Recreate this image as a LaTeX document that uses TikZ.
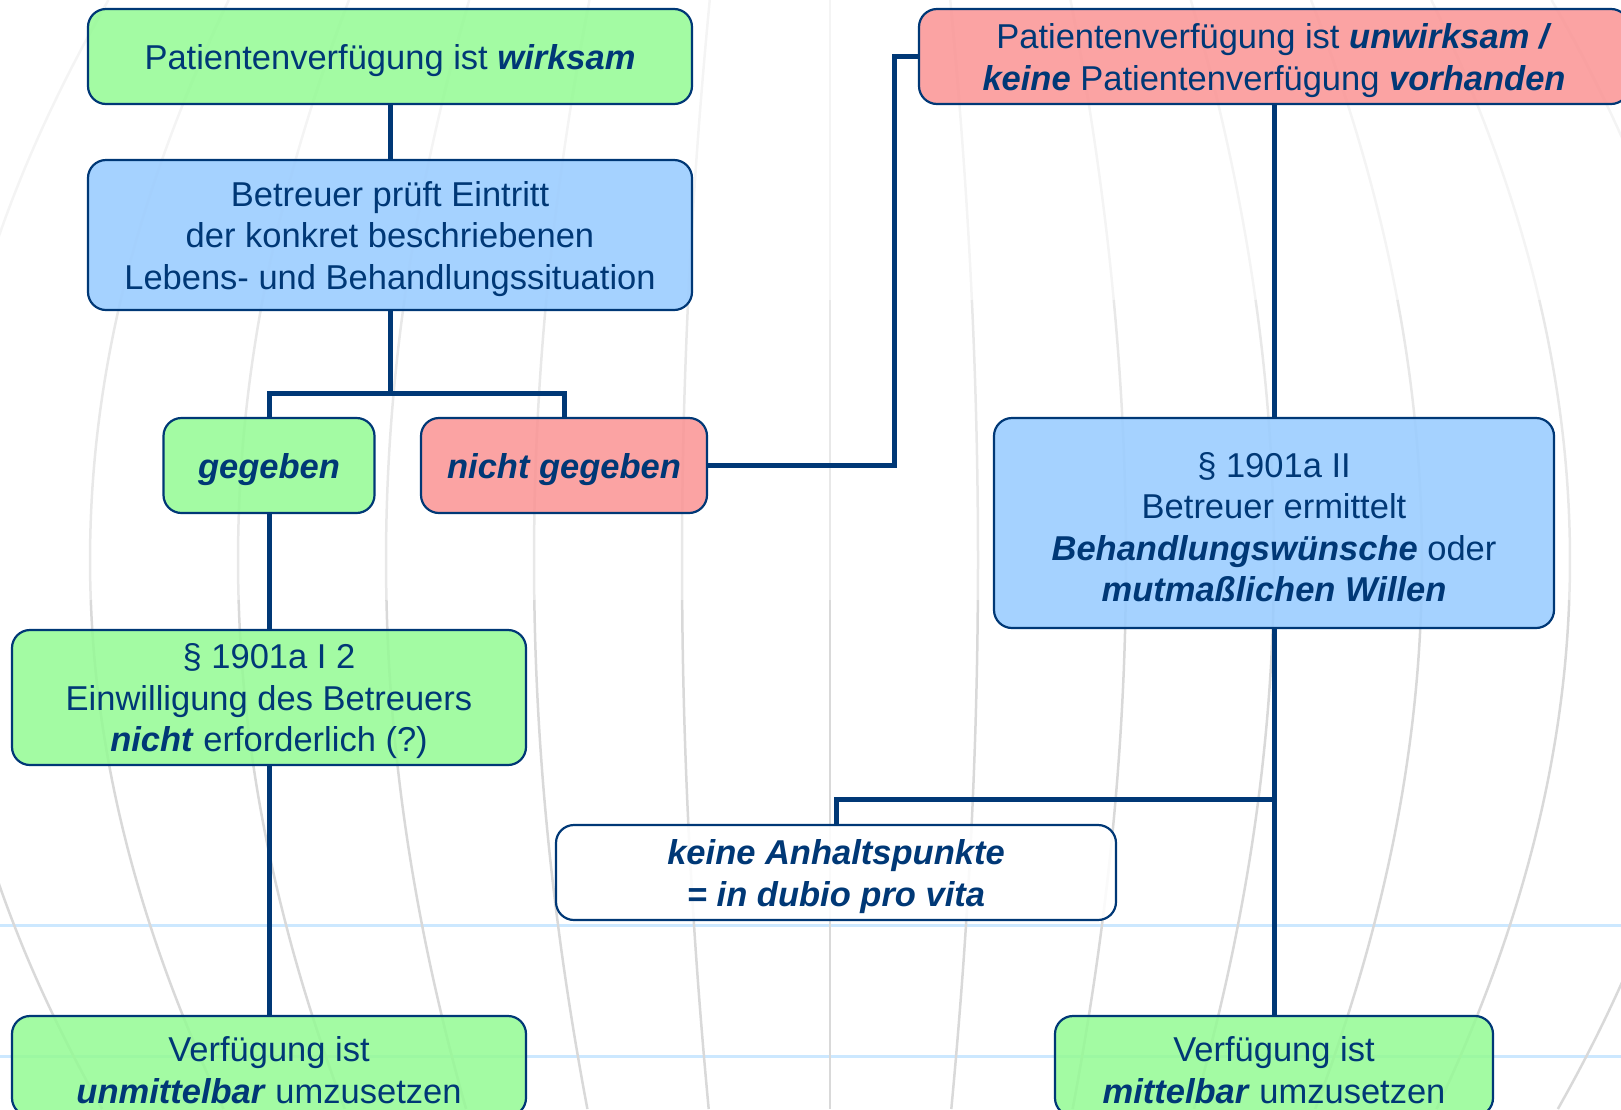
\documentclass[tikz,border=0pt]{standalone}
\usepackage{fontspec}
\setmainfont{Liberation Sans}
\usetikzlibrary{positioning}
\definecolor{navy}{RGB}{0,56,118}
\definecolor{gruen}{RGB}{150,250,150}
\definecolor{rot}{RGB}{250,150,150}
\definecolor{blau}{RGB}{153,204,255}
\definecolor{hblau}{RGB}{204,232,255}
\newcommand{\betont}[1]{\textbf{\textit{#1}}}
\newcommand{\hoch}{\rule{0pt}{33pt}}
\begin{document}
\begin{tikzpicture}[x=1pt,y=-1pt,
  box/.style={draw=navy, line width=2.2, rounded corners=18, align=center,
    text=navy, inner sep=0, fill opacity=0.88, text opacity=1,
    font=\fontsize{34.5}{41.5}\selectfont},
  ja/.style={box, fill=gruen},
  nein/.style={box, fill=rot},
  info/.style={box, fill=blau},
  leer/.style={box, fill=white},
  verb/.style={draw=navy, line width=5},
  meridian/.style={line width=2.5}]
\useasboundingbox (0,0) rectangle (1621,1109);
\clip (0,0) rectangle (1621,1109);

% Hintergrund
\draw[hblau, line width=3] (0,925) -- (1621,925);
\draw[hblau, line width=3] (0,1056) -- (1621,1056);
\foreach \k in {-7,...,7} {
  \draw[meridian, gray!9] plot[domain=0:300, samples=20, smooth]
    ({830+(\k)*148*cos(deg((\x-560)/900))}, \x);
  \draw[meridian, gray!18] plot[domain=300:600, samples=20, smooth]
    ({830+(\k)*148*cos(deg((\x-560)/900))}, \x);
  \draw[meridian, gray!30] plot[domain=600:1109, samples=30, smooth]
    ({830+(\k)*148*cos(deg((\x-560)/900))}, \x);
}

% linke Seite: wirksam
\node[ja, minimum width=604, minimum height=95] (wirk) at (390,56.5)
  {\hoch Patientenverfügung ist \betont{wirksam}};
\node[info, minimum width=604, minimum height=150] (pruef) at (390,235)
  {\hoch Betreuer prüft Eintritt\\der konkret beschriebenen\\Lebens- und Behandlungssituation};
\node[ja, minimum width=211, minimum height=95] (geg) at (269,465.5)
  {\hoch\betont{gegeben}};
\node[nein, minimum width=286, minimum height=95] (nicht) at (564,465.5)
  {\hoch\betont{nicht gegeben}};
\node[ja, minimum width=514, minimum height=135] (einw) at (269,697.5)
  {\hoch§ 1901a I 2\\Einwilligung des Betreuers\\\betont{nicht} erforderlich (?)};
\node[ja, minimum width=514, minimum height=100] (unmittel) at (269,1066)
  {\hoch Verfügung ist\\\betont{unmittelbar} umzusetzen};

% rechte Seite: unwirksam / keine
\node[nein, minimum width=710, minimum height=95] (unwirk) at (1274,56.5)
  {\hoch Patientenverfügung ist \betont{unwirksam /}\\\betont{keine} Patientenverfügung \betont{vorhanden}};
\node[info, minimum width=560, minimum height=210] (ermittelt) at (1274,523)
  {\hoch§ 1901a II\\Betreuer ermittelt\\\betont{Behandlungswünsche} oder\\\betont{mutmaßlichen Willen}};
\node[leer, minimum width=560, minimum height=95] (keine) at (836,872.5)
  {\hoch\betont{keine Anhaltspunkte}\\\betont{= in dubio pro vita}};
\node[ja, minimum width=438, minimum height=100] (mittel) at (1274,1066)
  {\hoch Verfügung ist\\\betont{mittelbar} umzusetzen};

% Verbindungen
\coordinate (gabel) at (390,393);
\coordinate (knick) at (894,56.5);
\coordinate (abzw) at (1274,799);
\draw[verb] (wirk) -- (pruef);
\draw[verb] (pruef) -- (gabel);
\draw[verb] (geg.north) |- (gabel) -| (nicht.north);
\draw[verb] (nicht.east) -| (knick) -- (unwirk.west);
\draw[verb] (geg) -- (einw);
\draw[verb] (einw) -- (unmittel);
\draw[verb] (unwirk) -- (ermittelt);
\draw[verb] (ermittelt) -- (mittel);
\draw[verb] (keine.north) |- (abzw);
\end{tikzpicture}
\end{document}
